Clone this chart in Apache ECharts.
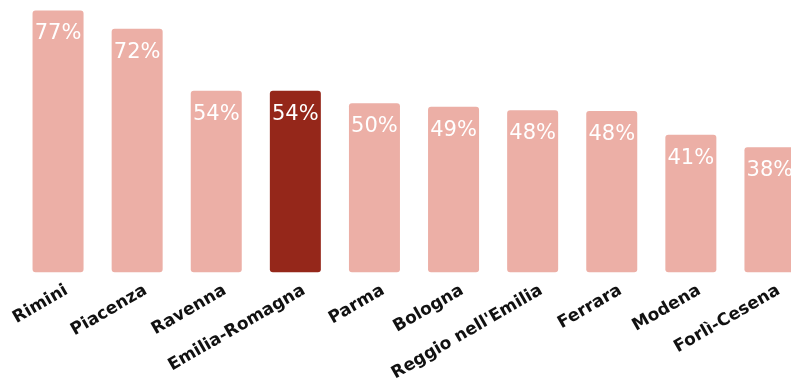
<!DOCTYPE html>
<html><head><meta charset="utf-8">
<script src="https://cdn.jsdelivr.net/npm/echarts@6/dist/echarts.min.js"></script>
<style>html,body{margin:0;padding:0;background:#fff}#c{width:791px;height:378px}</style>
</head><body><div id="c"></div>
<script>
const categories = ["Rimini","Piacenza","Ravenna","Emilia-Romagna","Parma","Bologna","Reggio nell'Emilia","Ferrara","Modena","Forlì-Cesena"];
const values = [77.0, 71.8, 54.0, 54.0, 50.4, 49.4, 48.4, 48.2, 41.4, 37.8];
const highlight = "Emilia-Romagna";

const chart = echarts.init(document.getElementById('c'), null, {renderer:'canvas'});
chart.setOption({
  animation:false,
  grid:{left:18.5, width:791, top:0, bottom:105.7, containLabel:false, outerBoundsMode:'none'},
  xAxis:{type:'category', data:categories,
    axisLine:{show:false}, axisTick:{show:false},
    axisLabel:{interval:0, rotate:30, margin:22, padding:[0,-10,0,0], color:'#111', fontFamily:'DejaVu Sans', fontWeight:'bold', fontSize:17}},
  yAxis:{type:'value', min:2, max:80, show:false, splitLine:{show:false}},
  series:[{type:'bar', barWidth:51,
    data: values.map((v,i)=>({value:v, itemStyle:{color: categories[i]===highlight ? '#95271a' : '#ecafa6', borderRadius:3}})),
    label:{show:true, position:'insideTop', distance:13, color:'#fff', fontFamily:'DejaVu Sans', fontSize:21,
      formatter:p=>Math.round(p.value)+'%'}
  }]
});
</script></body></html>
